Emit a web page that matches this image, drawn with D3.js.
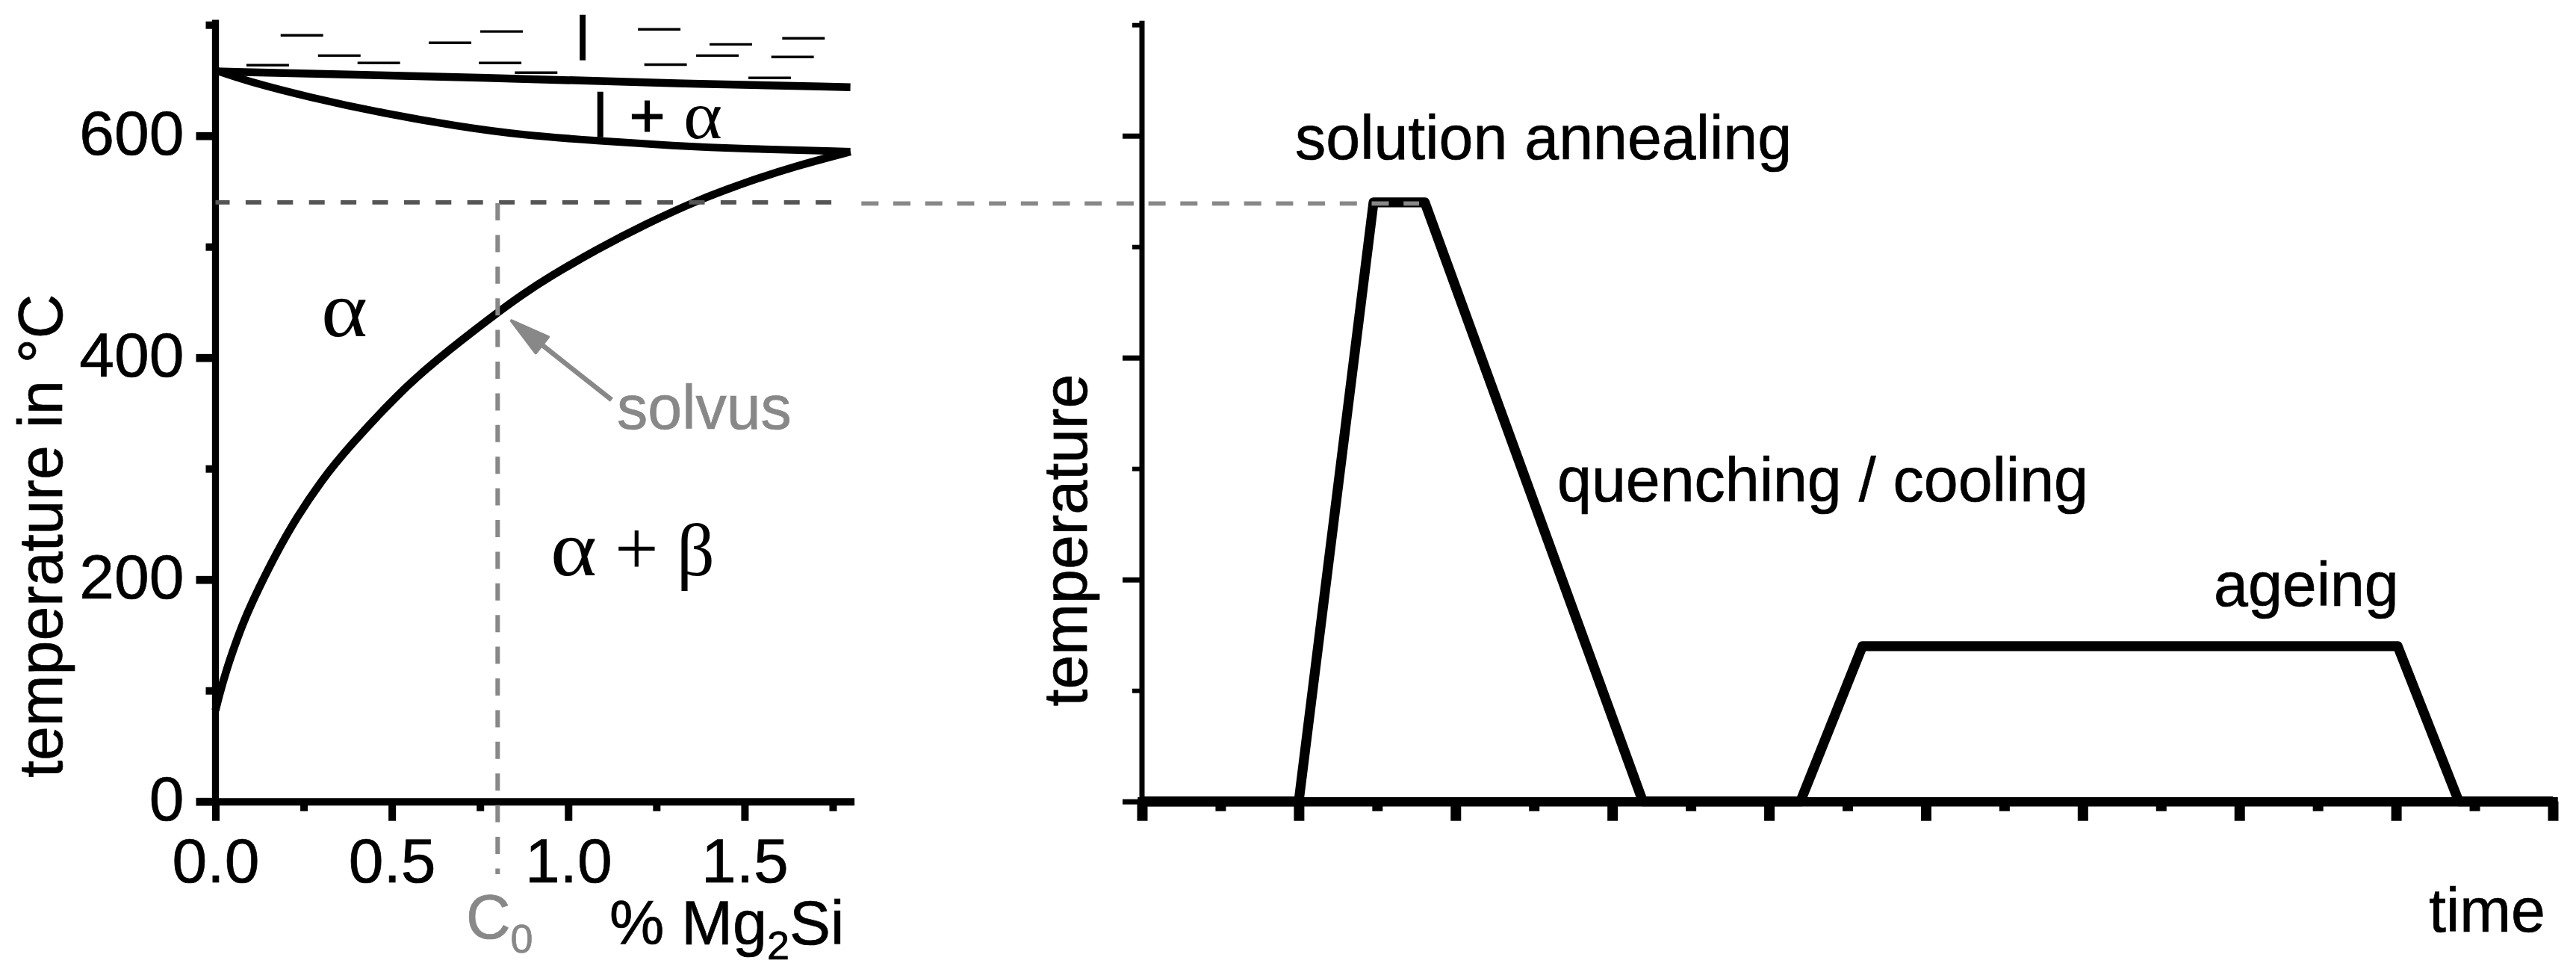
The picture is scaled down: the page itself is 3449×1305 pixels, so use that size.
<!DOCTYPE html>
<html>
<head>
<meta charset="utf-8">
<script src="https://cdn.jsdelivr.net/npm/d3@7"></script>
<style>
html,body{margin:0;padding:0;background:#fff;}
svg{display:block;}
text{font-family:"Liberation Sans",Arial,sans-serif;}
.greek{font-family:"Liberation Serif","Times New Roman",serif;}
</style>
</head>
<body>
<svg id="chart" width="3449" height="1305" viewBox="0 0 3449 1305"></svg>
<script>
// ---- data ----
const liquidusX = [0, 0.475, 0.871, 1.295, 1.8];
const liquidusT = [658, 654.5, 651.4, 647.2, 643.8];
const solidusX = [0, 0.088, 0.264, 0.476, 0.688, 0.871, 1.083, 1.295, 1.507, 1.8];
const solidusT = [659, 649.4, 634.8, 620.2, 608.4, 600.5, 595.5, 591, 588.1, 585.7];
const solvusX = [0, 0.009, 0.031, 0.053, 0.081, 0.123, 0.173, 0.229, 0.300, 0.374, 0.519, 0.617, 0.794, 0.871, 0.942, 1.083, 1.224, 1.365, 1.507, 1.648, 1.8];
const solvusT = [82, 94, 118.5, 139, 163.4, 192.6, 224, 255.5, 289, 318.3, 367.7, 395.8, 439.5, 457, 472, 498, 521, 541.7, 558.5, 573, 585.7];
const liquidMarkX = [0.245, 0.148, 0.351, 0.463, 0.665, 0.811, 0.807, 0.909, 1.258, 1.461, 1.667, 1.423, 1.636, 1.276, 1.571];
const liquidMarkT = [690.5, 663.6, 672.3, 665.6, 683.8, 694, 665.6, 656.9, 695.9, 682.4, 687.8, 672.3, 671, 664.1, 652.2];
const liquidMarkHalfWidth = 0.0603;
const profileTime = [0, 1.0, 1.477, 1.804, 3.195, 4.2, 4.596, 8.01, 8.40, 9];
const profileTemp = [0, 0, 540, 540, 0, 0, 140, 140, 0, 0];
const annealTemp = 540, annealTempRight = 539, c0 = 0.8;
const arrowTail = [1.123, 362], arrowTip = [0.836, 434];
const tempMajor = [0, 200, 400, 600];
const tempMinor = [100, 300, 500, 700];
const compMajor = [0, 0.5, 1.0, 1.5];
const compMinor = [0.25, 0.75, 1.25, 1.75];
const timeMajor = [0, 1, 2, 3, 4, 5, 6, 7, 8, 9];
const timeMinor = [0.5, 1.5, 2.5, 3.5, 4.5, 5.5, 6.5, 7.5, 8.5];

// ---- scales ----
const xL = d3.scaleLinear().domain([0, 1.8]).range([288.5, 1138.6]);
const xR = d3.scaleLinear().domain([0, 9]).range([1529, 3418]);
const y = d3.scaleLinear().domain([0, 700]).range([1072.7, 33.2]);

const svg = d3.select("#chart");
const FS = 82.5, SUB = 54, GREY = "#888", DARKGREY = "#555", WEIGHT = 0.7;

// ---- axes ----
function styleAxis(g, domainW, tickW, size) {
  g.select(".domain").attr("stroke", domainW ? "#000" : "none").attr("stroke-width", domainW)
    .attr("stroke-linecap", "square");
  g.selectAll(".tick line").attr("stroke", "#000").attr("stroke-width", tickW);
  g.selectAll(".tick text").attr("fill", "#000").attr("font-size", size)
    .attr("stroke", "#000").attr("stroke-width", WEIGHT);
}
function axes(x, xMajor, xMinor, o) {
  const gy = svg.append("g").attr("transform", `translate(${x.range()[0]},0)`);
  gy.append("g").call(d3.axisLeft(y).tickValues(tempMinor).tickSize(13).tickSizeOuter(0).tickFormat(""))
    .call(styleAxis, 0, o.yMinorW, 84);
  const a = gy.append("g").call(d3.axisLeft(y).tickValues(tempMajor).tickSize(26).tickSizeOuter(0).tickPadding(16)
      .tickFormat(o.labels ? d3.format("d") : ""))
    .call(styleAxis, o.yW, o.yMajorW, 84);
  a.selectAll(".tick text").attr("dy", "0.29em");
  a.select(".domain").attr("d", `M0,${y(0)}V${y(700) - 2}`);
  const gx = svg.append("g").attr("transform", `translate(0,${y(0)})`);
  gx.append("g").call(d3.axisBottom(x).tickValues(xMinor).tickSize(13).tickSizeOuter(0).tickFormat(""))
    .call(styleAxis, 0, o.xMinorW, 84);
  gx.append("g").call(d3.axisBottom(x).tickValues(xMajor).tickSize(26).tickSizeOuter(0).tickPadding(22.7)
      .tickFormat(o.labels ? d3.format(".1f") : ""))
    .call(styleAxis, o.xW, o.xMajorW, 84);
}
axes(xL, compMajor, compMinor, {labels: true, yW: 9.3, yMajorW: 10.7, yMinorW: 10, xW: 10, xMajorW: 10, xMinorW: 10});
axes(xR, timeMajor, timeMinor, {labels: false, yW: 7, yMajorW: 7, yMinorW: 6, xW: 12.5, xMajorW: 14, xMinorW: 14});

// ---- curves ----
const curve = d3.line().x(d => xL(d[0])).y(d => y(d[1])).curve(d3.curveBasis);
function drawCurve(xs, ts, w) {
  svg.append("path").attr("d", curve(d3.zip(xs, ts))).attr("fill", "none")
    .attr("stroke", "#000").attr("stroke-width", w);
}
drawCurve(liquidusX, liquidusT, 10.5);
drawCurve(solidusX, solidusT, 10);
drawCurve(solvusX, solvusT, 10.5);

svg.append("g").selectAll("line").data(d3.zip(liquidMarkX, liquidMarkT)).join("line")
  .attr("x1", d => xL(d[0] - liquidMarkHalfWidth)).attr("x2", d => xL(d[0] + liquidMarkHalfWidth))
  .attr("y1", d => y(d[1])).attr("y2", d => y(d[1]))
  .attr("stroke", "#000").attr("stroke-width", 3.4);

// ---- heat-treatment profile ----
const profile = d3.line().x(d => xR(d[0])).y(d => y(d[1]));
svg.append("path").attr("d", profile(d3.zip(profileTime, profileTemp))).attr("fill", "none")
  .attr("stroke", "#000").attr("stroke-width", 13.2).attr("stroke-linejoin", "round");

// ---- dashed guides ----
svg.append("line").attr("x1", xL(0)).attr("x2", xL(1.752)).attr("y1", y(annealTemp)).attr("y2", y(annealTemp))
  .attr("stroke", DARKGREY).attr("stroke-width", 5.7).attr("stroke-dasharray", "21 21.4").attr("stroke-dashoffset", 2);
svg.append("line").attr("x1", xR(-1.79)).attr("x2", xR(1.768)).attr("y1", y(annealTempRight)).attr("y2", y(annealTempRight))
  .attr("stroke", GREY).attr("stroke-width", 5.7).attr("stroke-dasharray", "23 19.7");
svg.append("line").attr("x1", xL(c0)).attr("x2", xL(c0)).attr("y1", y(annealTemp) + 1.2).attr("y2", 1170)
  .attr("stroke", GREY).attr("stroke-width", 6).attr("stroke-dasharray", "23 19.4");

// ---- solvus arrow ----
const tail = [xL(arrowTail[0]), y(arrowTail[1])], tip = [xL(arrowTip[0]), y(arrowTip[1])];
const len = Math.hypot(tail[0] - tip[0], tail[1] - tip[1]);
const ux = (tail[0] - tip[0]) / len, uy = (tail[1] - tip[1]) / len;
const HL = 52, HW = 13.5, INSET = 2;
const head = tip.map((v, i) => v + [ux, uy][i] * INSET);
const base = [tip[0] + ux * (HL + INSET), tip[1] + uy * (HL + INSET)];
svg.append("line").attr("x1", tail[0]).attr("y1", tail[1]).attr("x2", base[0]).attr("y2", base[1])
  .attr("stroke", GREY).attr("stroke-width", 6.5);
svg.append("polygon").attr("fill", GREY).attr("stroke", GREY).attr("stroke-width", 4).attr("stroke-linejoin", "round")
  .attr("points", [
    head, [base[0] - uy * HW, base[1] + ux * HW], [base[0] + uy * HW, base[1] - ux * HW]
  ].map(p => p.join(",")).join(" "));

// ---- text ----
function label(txt, x0, y0, o = {}) {
  const t = svg.append("text").attr("x", x0).attr("y", y0).attr("font-size", o.size || FS)
    .attr("fill", o.fill || "#000").attr("class", o.cls || null)
    .attr("stroke", o.fill || "#000").attr("stroke-width", o.weight === undefined ? WEIGHT : o.weight)
    .attr("text-anchor", o.anchor || "start").text(txt);
  if (o.stretch) t.attr("textLength", o.stretch).attr("lengthAdjust", "spacingAndGlyphs");
  return t;
}
function rotated(txt, x0, y0) {
  svg.append("text").attr("transform", `translate(${x0},${y0}) rotate(-90)`).attr("font-size", FS)
    .attr("stroke", "#000").attr("stroke-width", WEIGHT).text(txt);
}
rotated("temperature in °C", 83, 1041);
rotated("temperature", 1455, 945.5);

label("l", 771, 81);
label("l", 794.4, 184);
label("+", 842.5, 183, {weight: 1.2});
label("α", 915, 185, {cls: "greek", size: 92, stretch: 52, weight: 0});
label("α", 430, 450, {cls: "greek", size: 106, stretch: 62, weight: 0});
label("α", 737, 770, {cls: "greek", size: 106, stretch: 62, weight: 0});
label("+", 823, 769, {cls: "greek", size: 104, weight: 0});
label("β", 906, 770, {cls: "greek", size: 100, weight: 0});
label("solvus", 826, 574, {fill: GREY});

const c = label("C", 624, 1256, {fill: GREY});
c.append("tspan").attr("font-size", SUB).attr("dy", 19).text("0");
const mg = label("% Mg", 816, 1264);
mg.append("tspan").attr("font-size", SUB).attr("dy", 20).text("2");
mg.append("tspan").attr("dy", -20).text("Si");

label("solution annealing", 1734, 213);
label("quenching / cooling", 2085, 671);
label("ageing", 2964, 811);
label("time", 3252, 1247);
</script>
</body>
</html>
